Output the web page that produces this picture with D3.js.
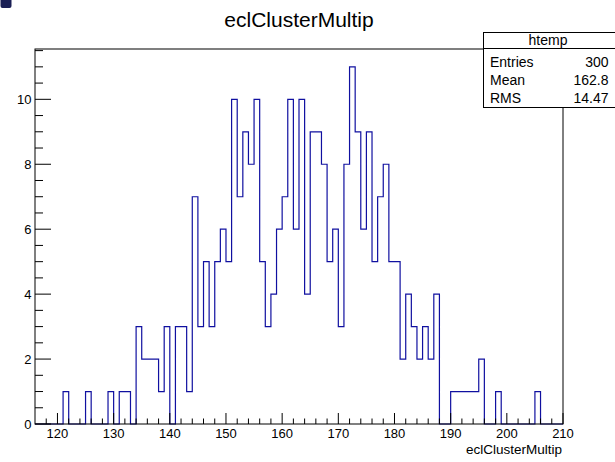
<!DOCTYPE html>
<html>
<head>
<meta charset="utf-8">
<script src="https://cdn.jsdelivr.net/npm/d3@7"></script>
<style>
  html, body { margin: 0; padding: 0; background: #fff; }
  svg { display: block; font-family: "Liberation Sans", Arial, Helvetica, sans-serif; }
</style>
</head>
<body>
<svg id="c" width="615" height="462"></svg>
<script>
// Histogram of eclClusterMultip, unit-width bins from 116 to 210
const xRange = [116, 210];
const binWidth = 1;
const counts = [
  0, 0, 0, 0, 0, 1, 0, 0, 0, 1,     // 116-125
  0, 0, 0, 1, 0, 1, 1, 0, 3, 2,     // 126-135
  2, 2, 1, 3, 0, 3, 3, 1, 7, 3,     // 136-145
  5, 3, 5, 6, 5, 10, 7, 9, 8, 10,   // 146-155
  5, 3, 4, 6, 7, 10, 6, 10, 4, 9,   // 156-165
  9, 8, 5, 6, 3, 8, 11, 9, 6, 9,    // 166-175
  5, 7, 8, 5, 5, 2, 4, 3, 2, 3,     // 176-185
  2, 4, 0, 0, 1, 1, 1, 1, 1, 2,     // 186-195
  0, 0, 1, 0, 0, 0, 0, 0, 0, 1,     // 196-205
  0, 0, 0, 0                        // 206-209
];
const xTickValues = [120, 130, 140, 150, 160, 170, 180, 190, 200, 210];
const yTickValues = [0, 2, 4, 6, 8, 10];
const statLabels = ["Entries", "Mean", "RMS"];
const statValues = ["300", "162.8", "14.47"];

const svg = d3.select("#c");
const frame = { left: 35, right: 563, top: 49, bottom: 424 };

const yMax = d3.max(counts) * 1.05;
const x = d3.scaleLinear().domain(xRange).range([frame.left, frame.right]);
const y = d3.scaleLinear().domain([0, yMax]).range([frame.bottom, frame.top]);

// Small canvas marker in the upper-left corner
svg.append("rect")
  .attr("x", 0.5).attr("y", -3)
  .attr("width", 11).attr("height", 11)
  .attr("rx", 2)
  .attr("fill", "#1a1f55");

// Title
svg.append("text")
  .attr("x", 299).attr("y", 27)
  .attr("text-anchor", "middle")
  .attr("font-size", 21)
  .attr("fill", "#000")
  .text("eclClusterMultip");

// Histogram outline (step shape)
const pts = [[x(xRange[0]), y(0)]];
counts.forEach((c, i) => {
  const lo = xRange[0] + i * binWidth;
  pts.push([x(lo), y(c)]);
  pts.push([x(lo + binWidth), y(c)]);
});
pts.push([x(xRange[1]), y(0)]);
svg.append("path")
  .attr("d", d3.line()(pts))
  .attr("fill", "none")
  .attr("stroke", "#1010a0")
  .attr("stroke-width", 1.2);

// X axis ticks
const xMinor = d3.range(118, 210, 2).filter(v => v % 10 !== 0);
const gx = svg.append("g");
gx.selectAll("line.mj").data(xTickValues).join("line")
  .attr("x1", d => x(d)).attr("x2", d => x(d))
  .attr("y1", frame.bottom).attr("y2", frame.bottom - 11)
  .attr("stroke", "#000").attr("stroke-width", 1);
gx.selectAll("line.mn").data(xMinor).join("line")
  .attr("x1", d => x(d)).attr("x2", d => x(d))
  .attr("y1", frame.bottom).attr("y2", frame.bottom - 5.5)
  .attr("stroke", "#000").attr("stroke-width", 1);
gx.selectAll("text").data(xTickValues).join("text")
  .attr("x", d => x(d)).attr("y", 438)
  .attr("text-anchor", "middle")
  .attr("font-size", 13)
  .text(d => d);

// Y axis ticks
const yMinor = d3.range(0.5, yMax, 0.5).filter(v => v % 2 !== 0);
const gy = svg.append("g");
gy.selectAll("line.mj").data(yTickValues).join("line")
  .attr("x1", frame.left).attr("x2", frame.left + 16)
  .attr("y1", d => y(d)).attr("y2", d => y(d))
  .attr("stroke", "#000").attr("stroke-width", 1);
gy.selectAll("line.mn").data(yMinor).join("line")
  .attr("x1", frame.left).attr("x2", frame.left + 8)
  .attr("y1", d => y(d)).attr("y2", d => y(d))
  .attr("stroke", "#000").attr("stroke-width", 1);
gy.selectAll("text").data(yTickValues).join("text")
  .attr("x", 31.5).attr("y", d => y(d) + 4.6)
  .attr("text-anchor", "end")
  .attr("font-size", 13)
  .text(d => d);

// Frame
svg.append("rect")
  .attr("x", frame.left).attr("y", frame.top)
  .attr("width", frame.right - frame.left)
  .attr("height", frame.bottom - frame.top)
  .attr("fill", "none")
  .attr("stroke", "#000").attr("stroke-width", 1);

// X axis title
svg.append("text")
  .attr("x", 562).attr("y", 454)
  .attr("text-anchor", "end")
  .attr("font-size", 13.5)
  .text("eclClusterMultip");

// Statistics box
const box = svg.append("g");
box.append("rect")
  .attr("x", 483.5).attr("y", 32.5)
  .attr("width", 140).attr("height", 75)
  .attr("fill", "#fff")
  .attr("stroke", "#000").attr("stroke-width", 1);
box.append("line")
  .attr("x1", 483.5).attr("x2", 615)
  .attr("y1", 48.5).attr("y2", 48.5)
  .attr("stroke", "#000").attr("stroke-width", 1);
box.append("text")
  .attr("x", 548).attr("y", 45)
  .attr("text-anchor", "middle")
  .attr("font-size", 14)
  .text("htemp");
statLabels.forEach((lab, i) => {
  const by = 66.5 + i * 18.3;
  box.append("text").attr("x", 490).attr("y", by)
    .attr("font-size", 14).text(lab);
  box.append("text").attr("x", 608.5).attr("y", by)
    .attr("text-anchor", "end")
    .attr("font-size", 14).text(statValues[i]);
});
</script>
</body>
</html>
